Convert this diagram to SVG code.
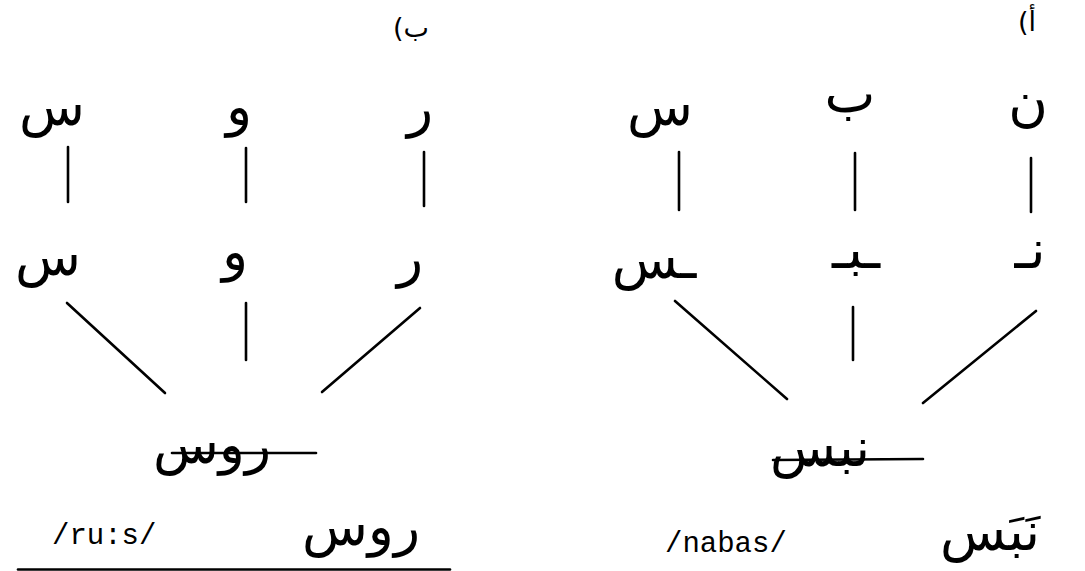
<svg xmlns="http://www.w3.org/2000/svg" width="1085" height="571" viewBox="0 0 1085 571">
<style>
.ar{font-family:"DejaVu Sans",sans-serif;font-size:54px;fill:#000;text-anchor:middle;direction:rtl;unicode-bidi:embed}
.lbl{font-size:27px}
.ipa{font-family:"Liberation Mono","Courier New",monospace;font-size:29px;fill:#000}
.c line{stroke:#000;stroke-width:2.6;stroke-linecap:round}
</style>
<rect width="1085" height="571" fill="#fff"/>
<g id="connectors" class="c">
<line x1="68" y1="147" x2="68" y2="202"/>
<line x1="246" y1="148" x2="246" y2="202"/>
<line x1="424" y1="152" x2="424" y2="206"/>
<line x1="67" y1="303" x2="165" y2="393"/>
<line x1="246" y1="303" x2="246" y2="360"/>
<line x1="420" y1="308" x2="322" y2="392"/>
<line x1="172" y1="453" x2="316" y2="453"/>
<line x1="679" y1="152" x2="679" y2="210"/>
<line x1="855" y1="153" x2="855" y2="210"/>
<line x1="1031" y1="158" x2="1031" y2="212"/>
<line x1="675" y1="301" x2="787" y2="399"/>
<line x1="853" y1="307" x2="853" y2="360"/>
<line x1="1036" y1="311" x2="923" y2="403"/>
<line x1="773" y1="460" x2="923" y2="459"/>
<line x1="18" y1="569.5" x2="450" y2="569.5"/>
</g>
<g id="label-b"><text class="ar lbl" x="411" y="37">ب)</text></g>
<g id="b-top-sin"><text class="ar" x="52" y="125">س</text></g>
<g id="b-top-waw"><text class="ar" x="239" y="125">و</text></g>
<g id="b-top-ra"><text class="ar" x="420" y="126">ر</text></g>
<g id="b-mid-sin"><text class="ar" x="48" y="275">س</text></g>
<g id="b-mid-waw"><text class="ar" x="235" y="270">و</text></g>
<g id="b-mid-ra"><text class="ar" x="410" y="276">ر</text></g>
<g id="b-word"><text class="ar" x="212" y="463">روس</text></g>
<g id="b-ipa"><text class="ipa" x="52" y="544">/ru:s/</text></g>
<g id="b-gloss"><text class="ar" x="361" y="545">روس</text></g>
<g id="label-a"><text class="ar lbl" x="1027" y="31">أ)</text></g>
<g id="a-top-sin"><text class="ar" x="660" y="125">س</text></g>
<g id="a-top-ba"><text class="ar" x="850" y="112">ب</text></g>
<g id="a-top-nun"><text class="ar" x="1028" y="120">ن</text></g>
<g id="a-mid-sin"><text class="ar" x="654" y="278">ـس</text></g>
<g id="a-mid-ba"><text class="ar" x="856" y="268">ـبـ</text></g>
<g id="a-mid-nun"><text class="ar" x="1030" y="268">نـ</text></g>
<g id="a-word"><text class="ar" x="820" y="466">نبس</text></g>
<g id="a-ipa"><text class="ipa" x="665" y="552">/nabas/</text></g>
<g id="a-gloss"><text class="ar" x="990" y="550">نَبَس</text></g>
</svg>
